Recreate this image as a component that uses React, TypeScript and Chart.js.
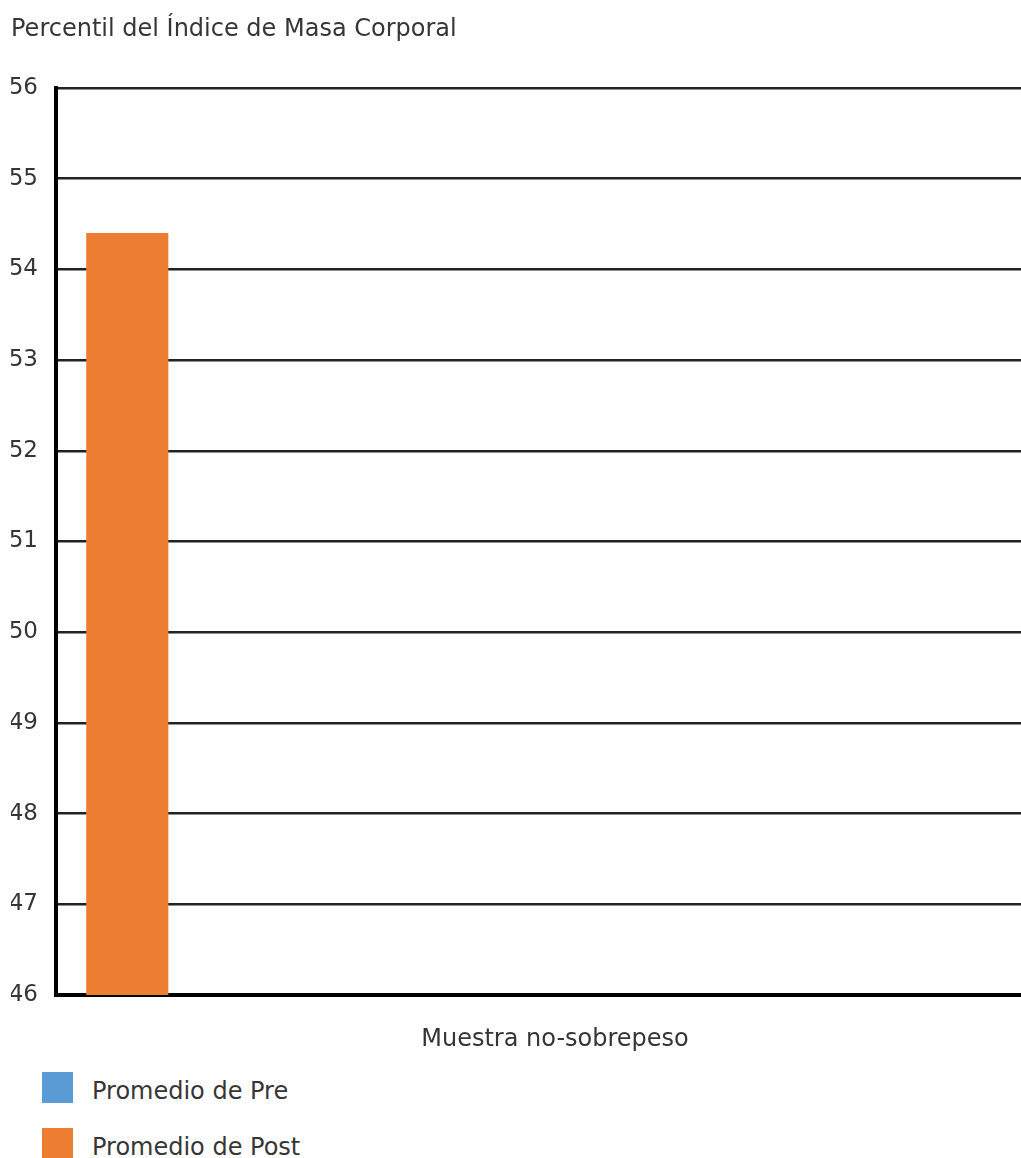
import React, { useEffect, useRef } from 'react';
import { Chart, registerables } from 'chart.js';

Chart.register(...registerables);

// Chart content
const chartTitle = 'Percentil del Índice de Masa Corporal';
const categories = ['Muestra no-sobrepeso'];
const seriesNames = ['Promedio de Pre', 'Promedio de Post'];
const preValues: (number | null)[] = [null];
const postValues: (number | null)[] = [54.4];
const seriesColors = ['#5B9BD5', '#ED7D31'];

// Value axis
const yMin = 46;
const yMax = 56;
const yStep = 1;
// Number of sample slots along the horizontal axis
const slotCount = 7;

const FONT = "'DejaVu Sans', Verdana, sans-serif";
const TEXT = '#363636';

const toPoints = (values: (number | null)[]) =>
  values.map((v, i) => ({ x: i + 0.5, y: v }));

export default function App() {
  const canvasRef = useRef<HTMLCanvasElement | null>(null);

  useEffect(() => {
    const prevMargin = document.body.style.margin;
    document.body.style.margin = '0';
    if (!canvasRef.current) return;
    const chart = new Chart(canvasRef.current, {
      type: 'bar',
      data: {
        datasets: [
          {
            label: seriesNames[0],
            data: toPoints(preValues) as any,
            backgroundColor: seriesColors[0],
            grouped: false,
            order: 1,
            categoryPercentage: 1,
            barPercentage: 0.576,
          },
          {
            label: seriesNames[1],
            data: toPoints(postValues) as any,
            backgroundColor: seriesColors[1],
            grouped: false,
            order: 0,
            categoryPercentage: 1,
            barPercentage: 0.576,
          },
        ],
      },
      options: {
        animation: false,
        responsive: true,
        maintainAspectRatio: false,
        layout: { padding: { left: 3, right: 4, top: 0, bottom: 0 } },
        plugins: {
          legend: { display: false },
          tooltip: { enabled: false },
          title: {
            display: true,
            text: chartTitle,
            align: 'start',
            color: TEXT,
            font: { family: FONT, size: 24, weight: 'normal', lineHeight: 1.2 },
            padding: { top: 7, bottom: 44.2 },
          },
        },
        scales: {
          x: {
            type: 'linear',
            min: 0,
            max: slotCount,
            offset: false,
            grid: { display: false, drawTicks: false },
            border: { display: true, color: '#000', width: 4 },
            ticks: { display: false, stepSize: 1 },
            title: {
              display: true,
              text: categories[0],
              color: TEXT,
              font: { family: FONT, size: 24, weight: 'normal', lineHeight: 1.2 },
              padding: { top: 30.6, bottom: 13.6 },
            },
          },
          y: {
            min: yMin,
            max: yMax,
            afterFit: (axis: any) => {
              axis.width = 45;
            },
            grid: { color: '#222', lineWidth: 2.6, drawTicks: false },
            border: { display: true, color: '#000', width: 4 },
            ticks: {
              stepSize: yStep,
              padding: 18,
              color: TEXT,
              font: { family: FONT, size: 23 },
            },
          },
        },
      },
    });
    return () => {
      chart.destroy();
      document.body.style.margin = prevMargin;
    };
  }, []);

  const legendRow = (name: string, color: string, top: number) => (
    <div
      key={name}
      style={{
        position: 'absolute',
        left: 42,
        top,
        display: 'flex',
        alignItems: 'center',
        height: 31,
      }}
    >
      <div style={{ width: 31, height: 31, background: color }} />
      <span
        style={{
          marginLeft: 19,
          fontFamily: FONT,
          fontSize: 24,
          color: TEXT,
          lineHeight: '31px',
          position: 'relative',
          top: 4,
        }}
      >
        {name}
      </span>
    </div>
  );

  return (
    <div
      style={{
        position: 'relative',
        width: 1021,
        height: 1158,
        overflow: 'hidden',
        background: '#fff',
      }}
    >
      <div style={{ position: 'absolute', left: 8, top: 8, width: 1050, height: 1060 }}>
        <canvas ref={canvasRef} />
      </div>
      {legendRow(seriesNames[0], seriesColors[0], 1072)}
      {legendRow(seriesNames[1], seriesColors[1], 1128)}
    </div>
  );
}
